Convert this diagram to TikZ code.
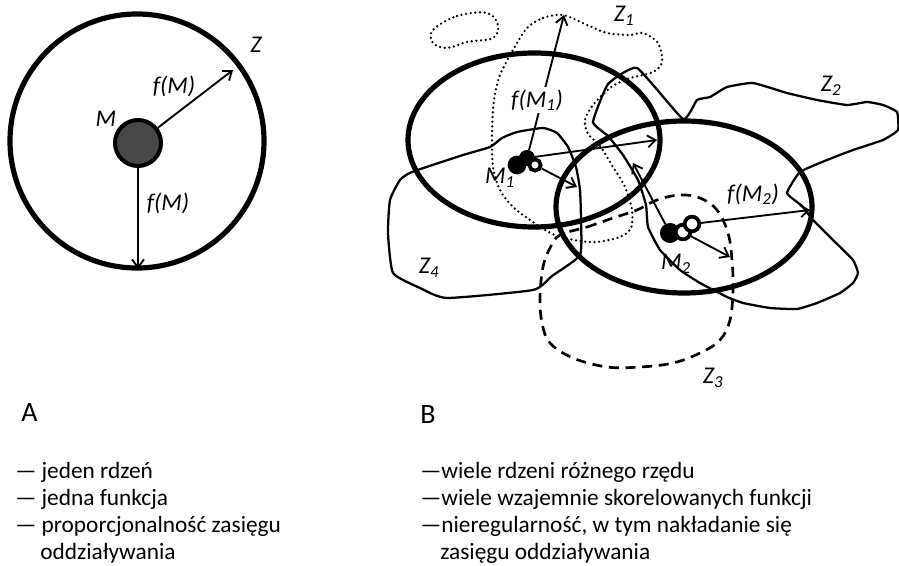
\documentclass[tikz,border=0pt]{standalone}
\usepackage{fontspec}
\setmainfont{Carlito}
\usetikzlibrary{arrows.meta}

\tikzset{
  ringline/.style={line width=3.9pt},
  zoneline/.style={line width=1.7pt, line join=round},
  zonedot/.style={line width=1.9pt, line cap=round, dash pattern=on 0pt off 3.5pt},
  zonedash/.style={line width=2pt, dash pattern=on 7.5pt off 5pt},
  fnarrow/.style={line width=1.4pt, -{Straight Barb[length=6pt,width=9pt]}},
  core/.style={circle, draw, line width=3pt, fill=black!72, minimum size=34.5pt, inner sep=0pt},
  blob/.style={circle, draw, line width=2pt, fill=black, inner sep=0pt},
  ring/.style={circle, draw, line width=2.8pt, fill=white, inner sep=0pt},
  lbl/.style={font=\fontsize{18}{20}\selectfont\itshape, inner sep=0.75pt},
  heading/.style={font=\fontsize{21}{24}\selectfont, inner sep=0pt, anchor=west},
  bodytext/.style={font=\fontsize{17.5}{20}\selectfont, inner sep=0pt, anchor=base west},
}

\begin{document}
\begin{tikzpicture}[x=0.75pt,y=0.75pt,yscale=-1,xscale=1]
\useasboundingbox (0,0) rectangle (899,566);

%%% A: one core, one function

% Shape: Circle
\draw[ringline] (137,141) circle (127);
% Core
\node[core] (M) at (138,143) {};
\coordinate (zArim) at (233,70);
\coordinate (zAbot) at (138,269);
% Connection
\draw[fnarrow] (M) -- (zArim);
\draw[fnarrow] (M) -- (zAbot);
% Text Node
\node[lbl] (lblZ) at (256,45) {Z};
\node[lbl] (lblfMa) at (174,86) {f(M)};
\node[lbl] (lblM) at (106,119) {M};
\node[lbl] (lblfMb) at (168,203) {f(M)};

%%% B: many cores, correlated functions

% Zone Z1 (dotted)
\draw[zonedot] plot[smooth cycle, tension=0.6] coordinates {(433,30) (457,16) (487,13) (498,25) (493,38) (467,42) (447,48) (433,43)};
\draw[zonedot] plot[smooth cycle, tension=0.5] coordinates {(527,28) (543,18) (563,15) (587,25) (607,33) (630,35) (643,33) (658,43) (662,62) (653,72) (627,79) (610,88) (593,105) (585,120) (588,134) (600,146) (613,167) (625,187) (632,210) (631,228) (620,237) (597,242) (580,241) (560,237) (545,230) (530,220) (513,207) (500,190) (493,167) (492,133) (494,100) (500,75) (513,50)};
% Zone Z2
\draw[zoneline] plot[smooth cycle, tension=0.25] coordinates {(593,122) (608,84) (637,68) (683,119) (697,100) (710,97) (727,87) (753,83) (787,93) (817,100) (847,105) (867,102) (883,105) (897,112) (898,130) (883,140) (853,150) (827,160) (800,172) (787,193) (802,206) (813,220) (833,240) (853,260) (858,273) (853,283) (840,293) (817,303) (797,309) (770,308) (743,303) (727,297) (700,283) (680,270) (660,250) (648,227) (646,205) (638,180) (623,155) (608,136)};
% Zone Z3 (dashed)
\draw[zonedash] plot[smooth cycle, tension=0.6] coordinates {(560,235) (587,227) (613,218) (637,210) (657,200) (680,195) (700,198) (717,210) (728,233) (732,260) (733,290) (730,320) (720,340) (700,353) (673,363) (640,367) (607,367) (573,358) (550,343) (542,323) (540,297) (543,267) (550,248)};
% Zone Z4
\draw[zoneline] plot[smooth cycle, tension=0.3] coordinates {(412,172) (463,155) (490,147) (502,138) (517,132) (543,128) (557,133) (568,147) (576,167) (580,190) (581,220) (580,255) (552,276) (533,290) (447,298) (420,288) (393,273) (388,233) (390,200) (400,180)};

% Shape: Ellipse
\draw[ringline] (534,140) ellipse (126 and 87);
\draw[ringline] (684,207) ellipse (128 and 86);

% Cores M1
\node[blob, minimum size=12pt] (m1a) at (517,165) {};
\node[blob, minimum size=10pt] (m1b) at (527,158) {};
\node[ring, minimum size=8.5pt] (m1c) at (535,165) {};
% Cores M2
\node[blob, minimum size=13pt] (m2a) at (670,233) {};
\node[ring, minimum size=11pt] (m2b) at (683,232) {};
\node[ring, minimum size=11pt] (m2c) at (692,224) {};

\coordinate (f1up) at (564,15);
\coordinate (f1rt) at (657,140);
\coordinate (f1dn) at (577,187);
\coordinate (f2rt) at (810,210);
\coordinate (f2dn) at (730,257);
\coordinate (f2up) at (633,163);

% Connection
\draw[fnarrow] (m1b) -- (f1up);
\draw[fnarrow] (m1b) -- (f1rt);
\draw[fnarrow] (m1c) -- (f1dn);
\draw[fnarrow] (m2c) -- (f2rt);
\draw[fnarrow] (m2b) -- (f2dn);
\draw[fnarrow] (m2a) -- (f2up);

% Text Node
\node[lbl, fill=white, inner sep=2pt] (lblfM1) at (537,100) {f(M\textsubscript{1})};
\node[lbl] (lblM1) at (500,178) {M\textsubscript{1}};
\node[lbl] (lblfM2) at (753,194) {f(M\textsubscript{2})};
\node[lbl] (lblM2) at (676,264) {M\textsubscript{2}};
\node[lbl] (lblZ1) at (624,16) {Z\textsubscript{1}};
\node[lbl] (lblZ2) at (831,86) {Z\textsubscript{2}};
\node[lbl] (lblZ3) at (713,378) {Z\textsubscript{3}};
\node[lbl] (lblZ4) at (429,268) {Z\textsubscript{4}};

%%% captions
\node[heading] (capA) at (21,413) {A};
\node[bodytext] (a1) at (15,478) {— jeden rdzeń};
\node[bodytext] (a2) at (15,505) {— jedna funkcja};
\node[bodytext] (a3) at (15,532) {— proporcjonalność zasięgu};
\node[bodytext] (a4) at (40,559) {oddziaływania};

\node[heading] (capB) at (420,415) {B};
\node[bodytext] (b1) at (420,478) {—wiele rdzeni różnego rzędu};
\node[bodytext] (b2) at (420,505) {—wiele wzajemnie skorelowanych funkcji};
\node[bodytext] (b3) at (420,532) {—nieregularność, w tym nakładanie się};
\node[bodytext] (b4) at (440,559) {zasięgu oddziaływania};

\end{tikzpicture}
\end{document}
